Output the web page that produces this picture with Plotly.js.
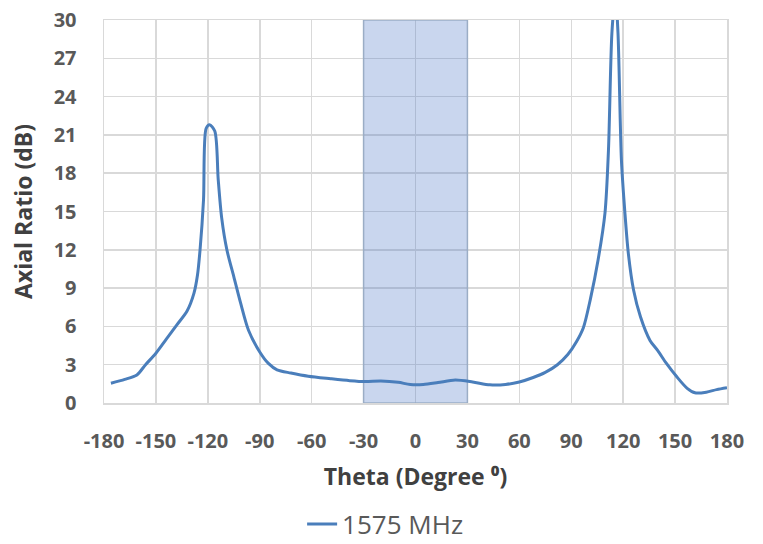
<!DOCTYPE html>
<html>
<head>
<meta charset="utf-8">
<script src="https://cdn.plot.ly/plotly-3.0.1.min.js"></script>
<style>html,body{margin:0;padding:0;background:#fff;}#chart{width:763px;height:544px;}</style>
</head>
<body>
<div id="chart"></div>
<script>
const theta = [-176, -168, -161, -156, -150, -144, -138, -132, -128, -126, -124.5, -122.5, -121, -119, -116, -114, -112, -109, -105, -101, -96.5, -90, -85, -80, -72, -62, -49, -38, -29, -20, -10, -3, 4.5, 13, 23, 33, 43, 52, 60, 68, 75, 82, 88, 93, 97, 101, 105.5, 109.5, 111.5, 113.5, 115.5, 117, 119, 121, 123, 126, 130, 135.5, 140, 145, 151, 157, 161.5, 168, 174, 180];
const axialRatio = [1.55, 1.85, 2.2, 3.0, 3.9, 5.0, 6.1, 7.2, 8.6, 10.0, 12.0, 15.9, 21.5, 21.8, 21.3, 17.5, 14.5, 12.0, 9.9, 7.8, 5.7, 4.0, 3.1, 2.6, 2.35, 2.1, 1.9, 1.75, 1.68, 1.72, 1.62, 1.45, 1.45, 1.6, 1.8, 1.65, 1.42, 1.45, 1.65, 2.0, 2.4, 3.0, 3.8, 4.8, 5.9, 8.1, 11.2, 14.9, 19.8, 29, 32, 29, 19, 14.9, 11.7, 8.85, 6.75, 4.9, 4.1, 3.1, 2.05, 1.15, 0.8, 0.85, 1.05, 1.2];
const xTicks = [-180, -150, -120, -90, -60, -30, 0, 30, 60, 90, 120, 150, 180];
const yTicks = [0, 3, 6, 9, 12, 15, 18, 21, 24, 27, 30];
const seriesName = '1575 MHz';
const band = [-30, 30];

const font = '"Open Sans", Lato, sans-serif';
const grey = '#595959';
const grid = '#D9D9D9';

Plotly.newPlot('chart', [{
  x: theta, y: axialRatio, type: 'scatter', mode: 'lines', name: seriesName,
  line: {color: '#4A7EBB', width: 3, shape: 'spline', smoothing: 0.8}
}], {
  width: 763, height: 544,
  margin: {l: 104, r: 36, t: 20, b: 141, autoexpand: false},
  paper_bgcolor: '#fff', plot_bgcolor: '#fff',
  font: {family: font, color: grey},
  showlegend: true,
  legend: {orientation: 'h', x: 0.318, xanchor: 'left', y: -0.316, yanchor: 'middle',
           font: {size: 26, color: grey, family: font}},
  xaxis: {
    range: [-180, 180], tickvals: xTicks, ticktext: xTicks.map(String),
    showgrid: true, gridcolor: grid, gridwidth: 1.5, zeroline: false,
    showline: true, linecolor: grid, linewidth: 1.5, mirror: true,
    ticks: '', ticklabelstandoff: 19,
    tickfont: {size: 20, color: grey, family: font, weight: 'bold'},
    title: {text: 'Theta (Degree ⁰)', standoff: 16, font: {size: 23, color: '#404040', family: font, weight: 'bold'}}
  },
  yaxis: {
    range: [0, 30], tickvals: yTicks, ticktext: yTicks.map(String),
    showgrid: true, gridcolor: grid, gridwidth: 1.5, zeroline: false,
    showline: true, linecolor: grid, linewidth: 1.5, mirror: true,
    ticks: '', ticklabelstandoff: 22,
    tickfont: {size: 20, color: grey, family: font, weight: 'bold'},
    title: {text: 'Axial Ratio (dB)', standoff: 14, font: {size: 23, color: '#404040', family: font, weight: 'bold'}}
  },
  shapes: [{
    type: 'rect', xref: 'x', yref: 'y', x0: band[0], x1: band[1], y0: 0, y1: 30,
    layer: 'between', fillcolor: 'rgba(68,114,196,0.29)',
    line: {color: 'rgba(150,170,195,0.9)', width: 1.5}
  }]
}, {staticPlot: true});
</script>
</body>
</html>
